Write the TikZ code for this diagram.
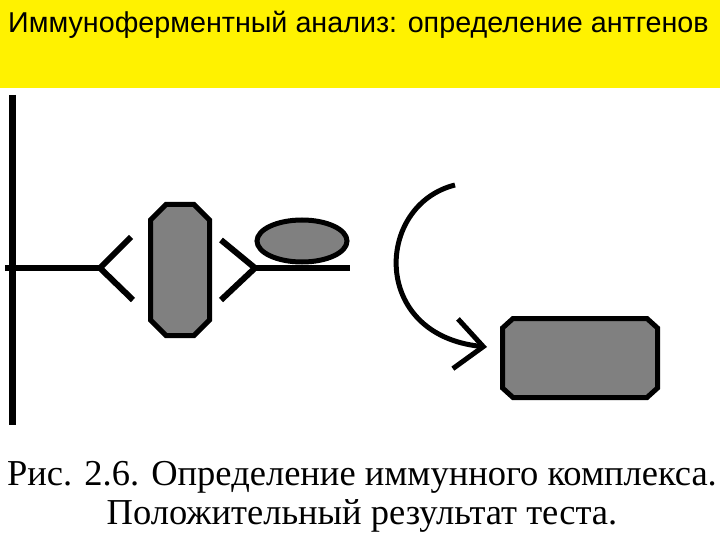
\documentclass[tikz,border=0pt]{standalone}
\usepackage{fontspec}
\setmainfont{Liberation Serif}
\newfontfamily\titlefont{Liberation Sans}
\usetikzlibrary{shapes.geometric,arrows.meta}
\tikzset{
  cell/.style={draw, fill=gray, line width=5pt, line join=miter},
  bond/.style={line width=6pt}
}

\begin{document}
\begin{tikzpicture}[x=1pt,y=-1pt]
      \useasboundingbox (0,0) rectangle (720,540);
      % Заголовок
      \fill[yellow] (0,0) rectangle (720,88);
      \node[anchor=base west, inner sep=0, font=\titlefont\fontsize{28.7}{33}\selectfont] (title) at (8,33) {Иммуноферментный анализ: определение антгенов};

      % Подложка и первое антитело
      \coordinate (mtop) at (12,95);
      \coordinate (mbot) at (12,425);
      \coordinate (mleft) at (5,268);
      \coordinate (yone) at (100,268);
      \coordinate (yonea) at (131,237);
      \coordinate (yoneb) at (133,300);
      \draw[line width=7pt] (mtop) -- (mbot);
      \draw[bond] (mleft) -- (yone);
      \draw[bond] (yonea) -- (yone) -- (yoneb);

      % Антиген
      \draw[cell] (150.5,220) -- (166,204.5) -- (194,204.5) -- (209.5,220)
        -- (209.5,320) -- (194,335.5) -- (166,335.5) -- (150.5,320) -- cycle;

      % Второе антитело с ферментом
      \coordinate (ytwo) at (255,268);
      \coordinate (ytwoa) at (221,240);
      \coordinate (ytwob) at (221,300);
      \coordinate (stem) at (350,268);
      \draw[bond] (ytwoa) -- (ytwo) -- (ytwob);
      \draw[bond] (ytwo) -- (stem);
      \node[ellipse, cell, inner sep=0, minimum width=90pt, minimum height=42pt] (enzyme) at (302,241) {};

      % Стрелка и продукт реакции
      \coordinate (astart) at (455,185);
      \coordinate (aend) at (487,347);
      \draw[line width=5pt, -{Straight Barb[length=28pt,width=50pt]}] (astart) .. controls (375,205) and (370,335) .. (aend);
      \draw[cell] (502.5,328) -- (513,318.5) -- (647,318.5) -- (657.5,328)
        -- (657.5,388) -- (647,397.5) -- (513,397.5) -- (502.5,388) -- cycle;

      % Подпись
      \node[align=center, inner sep=0, font=\fontsize{36.5}{39}\selectfont] (caption) at (362,497) {Рис. 2.6. Определение иммунного комплекса.\\Положительный результат теста.};
\end{tikzpicture}
\end{document}
